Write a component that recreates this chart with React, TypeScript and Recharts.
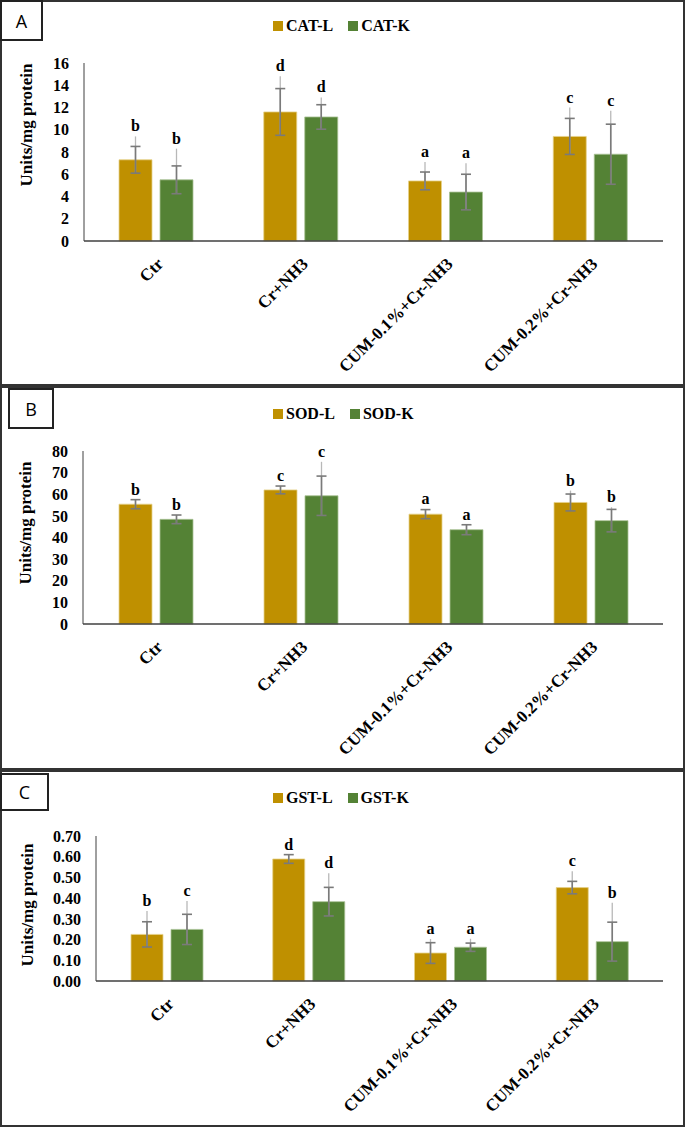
import React from "react";
import { BarChart, Bar, XAxis, YAxis, ErrorBar, LabelList } from "recharts";

const categories = ["Ctr", "Cr+NH3", "CUM-0.1%+Cr-NH3", "CUM-0.2%+Cr-NH3"];

// A - CAT
const catL = [7.3, 11.6, 5.4, 9.4];
const catK = [5.5, 11.15, 4.4, 7.8];
const catLSd = [1.2, 2.1, 0.8, 1.62];
const catKSd = [1.25, 1.1, 1.6, 2.7];
const catLTop = [9.4, 14.8, 7.1, 12.0];
const catKTop = [8.3, 12.9, 7.0, 11.7];
const catLLetters = ["b", "d", "a", "c"];
const catKLetters = ["b", "d", "a", "c"];
const catTicks = [0, 2, 4, 6, 8, 10, 12, 14, 16];

// B - SOD
const sodL = [55.4, 62.0, 50.8, 56.2];
const sodK = [48.4, 59.3, 43.6, 47.8];
const sodLSd = [2.1, 1.8, 2.1, 3.9];
const sodKSd = [2.0, 9.1, 2.3, 5.2];
const sodLTop = [57.5, 63.8, 53.1, 61.7];
const sodKTop = [50.3, 75.0, 45.8, 54.0];
const sodLLetters = ["b", "c", "a", "b"];
const sodKLetters = ["b", "c", "a", "b"];
const sodTicks = [0, 10, 20, 30, 40, 50, 60, 70, 80];

// C - GST
const gstL = [0.225, 0.589, 0.135, 0.451];
const gstK = [0.249, 0.383, 0.163, 0.19];
const gstLSd = [0.061, 0.021, 0.05, 0.03];
const gstKSd = [0.073, 0.069, 0.02, 0.094];
const gstLTop = [0.338, 0.61, 0.203, 0.53];
const gstKTop = [0.386, 0.52, 0.204, 0.378];
const gstLLetters = ["b", "d", "a", "c"];
const gstKLetters = ["c", "d", "a", "b"];
const gstTicks = [0, 0.1, 0.2, 0.3, 0.4, 0.5, 0.6, 0.7];

const GOLD = "#BF9000";
const GREEN = "#548235";
const AXIS = "#404040";
const SERIF = "'Liberation Serif', 'Times New Roman', serif";
const SANS = "'Open Sans', 'Liberation Sans', sans-serif";

function buildRows(l: number[], k: number[], lSd: number[], kSd: number[], lTop: number[], kTop: number[]) {
  return categories.map((name, i) => ({
    name,
    L: l[i],
    K: k[i],
    lErr: [lSd[i], lSd[i]],
    kErr: [kSd[i], kSd[i]],
    lLine: [lSd[i], Math.max(lTop[i] - l[i], lSd[i])],
    kLine: [kSd[i], Math.max(kTop[i] - k[i], kSd[i])],
  }));
}

const letterRenderer = (values: number[], sds: number[], tops: number[], letters: string[]) => (props: any) => {
  const i = props.index;
  const x = Number(props.x), y = Number(props.y), w = Number(props.width), h = Number(props.height);
  const v = values[i];
  const t = Math.max(tops[i], v + sds[i]);
  const base = y + h;
  const ty = base - (t * h) / v - 5;
  return (
    <text x={x + w / 2} y={ty} textAnchor="middle" fontFamily={SERIF} fontWeight="bold" fontSize={16} fill="#000">
      {letters[i]}
    </text>
  );
};

const CatTick = (props: any) => {
  const { x, y, payload } = props;
  const ax = x + 8;
  const ay = y + 16;
  return (
    <text x={ax} y={ay} transform={`rotate(-45 ${ax} ${ay})`} textAnchor="end" fontFamily={SERIF} fontWeight="bold" fontSize={17} fill="#000">
      {payload.value}
    </text>
  );
};

type PanelProps = {
  top: number;
  height: number;
  yWidth: number;
  marginTop: number;
  xHeight: number;
  barSize: number;
  ticks: number[];
  fmt?: (v: number) => string;
  rows: any[];
  lName: string;
  kName: string;
  lVals: number[];
  kVals: number[];
  lSd: number[];
  kSd: number[];
  lTop: number[];
  kTop: number[];
  lLetters: string[];
  kLetters: string[];
  labelX: number;
  labelY: number;
  legendTop: number;
  legendLeft: number;
  box: { label: string; x: number; y: number; w: number; h: number };
};

function Panel(p: PanelProps) {
  const max = p.ticks[p.ticks.length - 1];
  return (
    <div style={{ position: "absolute", left: 0, top: p.top, width: 685, height: p.height }}>
      <div style={{ position: "absolute", left: 0, top: 0, width: 685, height: p.height, boxSizing: "border-box", border: "2px solid #333" }} />
      <div
        style={{
          position: "absolute", left: p.box.x, top: p.box.y, width: p.box.w, height: p.box.h, boxSizing: "border-box",
          border: "2px solid #222", background: "#fff", fontFamily: SANS, fontSize: 18, display: "flex",
          alignItems: "center", justifyContent: "center", color: "#000",
        }}
      >
        {p.box.label}
      </div>
      <div
        style={{
          position: "absolute", left: p.legendLeft, top: p.legendTop, display: "flex", alignItems: "center",
          fontFamily: SERIF, fontWeight: "bold", fontSize: 16, color: "#000", whiteSpace: "nowrap",
        }}
      >
        <span style={{ width: 10, height: 10, background: GOLD, display: "inline-block", marginRight: 3 }} />
        <span>{p.lName}</span>
        <span style={{ width: 10, height: 10, background: GREEN, display: "inline-block", marginLeft: 15, marginRight: 3 }} />
        <span>{p.kName}</span>
      </div>
      <div style={{ position: "absolute", left: 0, top: 0 }}>
        <BarChart
          width={685}
          height={p.height}
          data={p.rows}
          margin={{ top: p.marginTop, right: 22, left: 0, bottom: 0 }}
          barSize={p.barSize}
          barGap={8}
        >
          <XAxis
            dataKey="name"
            height={p.xHeight}
            tickLine={false}
            axisLine={{ stroke: AXIS, strokeWidth: 1.5 }}
            tick={<CatTick />}
            interval={0}
          />
          <YAxis
            width={p.yWidth}
            domain={[0, max]}
            ticks={p.ticks}
            interval={0}
            tickLine={false}
            tickMargin={9}
            axisLine={{ stroke: AXIS, strokeWidth: 1 }}
            tickFormatter={p.fmt}
            tick={{ fontFamily: SERIF, fontWeight: "bold", fontSize: 16, fill: "#000" }}
            label={{
              value: "Units/mg protein",
              content: () => (
                <text
                  x={p.labelX}
                  y={p.labelY}
                  transform={`rotate(-90 ${p.labelX} ${p.labelY})`}
                  textAnchor="middle"
                  dominantBaseline="central"
                  fontFamily={SERIF}
                  fontWeight="bold"
                  fontSize={17}
                  fill="#000"
                >
                  Units/mg protein
                </text>
              ),
            }}
          />
          <Bar dataKey="L" fill={GOLD} stroke="#e6d28a" strokeWidth={0.8} isAnimationActive={false}>
            <ErrorBar dataKey="lLine" width={0} stroke="#b8b8b8" strokeWidth={1.3} direction="y" />
            <ErrorBar dataKey="lErr" width={5} stroke="#7a7a7a" strokeWidth={1.6} direction="y" />
            <LabelList dataKey="L" content={letterRenderer(p.lVals, p.lSd, p.lTop, p.lLetters)} />
          </Bar>
          <Bar dataKey="K" fill={GREEN} stroke="#a9c196" strokeWidth={0.8} isAnimationActive={false}>
            <ErrorBar dataKey="kLine" width={0} stroke="#b8b8b8" strokeWidth={1.3} direction="y" />
            <ErrorBar dataKey="kErr" width={5} stroke="#7a7a7a" strokeWidth={1.6} direction="y" />
            <LabelList dataKey="K" content={letterRenderer(p.kVals, p.kSd, p.kTop, p.kLetters)} />
          </Bar>
        </BarChart>
      </div>
    </div>
  );
}

export default function App() {
  const catRows = buildRows(catL, catK, catLSd, catKSd, catLTop, catKTop);
  const sodRows = buildRows(sodL, sodK, sodLSd, sodKSd, sodLTop, sodKTop);
  const gstRows = buildRows(gstL, gstK, gstLSd, gstKSd, gstLTop, gstKTop);
  return (
    <div style={{ position: "absolute", left: 0, top: 0, width: 685, height: 1127, background: "#fff", overflow: "hidden" }}>
      <Panel
        top={0} height={386} yWidth={84} marginTop={63} xHeight={145} barSize={33}
        ticks={catTicks} rows={catRows} lName="CAT-L" kName="CAT-K"
        lVals={catL} kVals={catK} lSd={catLSd} kSd={catKSd} lTop={catLTop} kTop={catKTop}
        lLetters={catLLetters} kLetters={catKLetters}
        labelX={26} labelY={125} legendTop={17} legendLeft={273}
        box={{ label: "A", x: 0, y: 0, w: 43, h: 41 }}
      />
      <Panel
        top={386} height={384} yWidth={83} marginTop={65} xHeight={146} barSize={33}
        ticks={sodTicks} rows={sodRows} lName="SOD-L" kName="SOD-K"
        lVals={sodL} kVals={sodK} lSd={sodLSd} kSd={sodKSd} lTop={sodLTop} kTop={sodKTop}
        lLetters={sodLLetters} kLetters={sodKLetters}
        labelX={25} labelY={137} legendTop={19} legendLeft={273}
        box={{ label: "B", x: 8, y: 2, w: 46, h: 41 }}
      />
      <Panel
        top={770} height={357} yWidth={96} marginTop={66} xHeight={146} barSize={32}
        ticks={gstTicks} fmt={(v: number) => v.toFixed(2)} rows={gstRows} lName="GST-L" kName="GST-K"
        lVals={gstL} kVals={gstK} lSd={gstLSd} kSd={gstKSd} lTop={gstLTop} kTop={gstKTop}
        lLetters={gstLLetters} kLetters={gstKLetters}
        labelX={27} labelY={135} legendTop={19} legendLeft={273}
        box={{ label: "C", x: 0, y: 3, w: 49, h: 38 }}
      />
    </div>
  );
}
